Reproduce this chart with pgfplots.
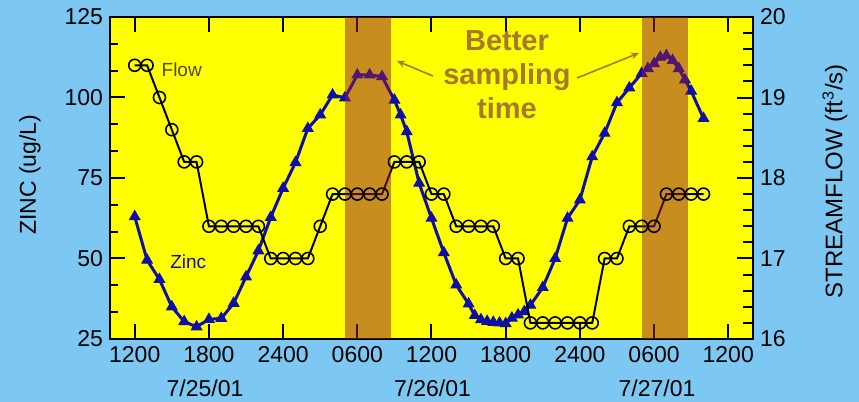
\documentclass[border=0pt]{standalone}
\usepackage{pgfplots}
\pgfplotsset{compat=1.18}
\usepackage{fontspec}
\setmainfont{Liberation Sans}
\usetikzlibrary{arrows.meta}
\definecolor{bgblue}{RGB}{125,200,242}
\definecolor{plotyellow}{RGB}{255,255,0}
\definecolor{bandc}{RGB}{145,29,60}
\definecolor{zincblue}{RGB}{15,15,165}
\definecolor{anncol}{RGB}{165,120,45}
\definecolor{flowlbl}{RGB}{80,72,30}

\pgfplotstableread{
h v
12 63
13 49.5
14 43.5
15 35
16 30.4
17 28.8
18 31.1
19 31.4
20 36.1
21 44.3
22 52.4
23 62.8
24 71.8
25 79.8
26 90.4
27 94.6
28 100.8
29 99.9
30 107
31 107
32 106.5
33 99.2
33.5 94.6
34 89.4
35 73.4
36 62.5
37 51.8
38 41.8
39 35.9
39.5 32.3
40 31
40.5 30.5
41 30.2
41.5 30
42 29.8
42.5 31.5
43 32.5
43.5 33.5
44 35.5
45 41
46 50
47 62.5
48 68.2
49 81.6
50 88.9
51 98.4
52 103
53 107.5
53.5 109
54 110.5
54.5 112.5
55 113
55.5 111.5
56 109
56.5 105.5
57 102
58 93.5
}\zinc

\pgfplotstableread{
h v
12 19.4
13 19.4
14 19.0
15 18.6
16 18.2
17 18.2
18 17.4
19 17.4
20 17.4
21 17.4
22 17.4
23 17.0
24 17.0
25 17.0
26 17.0
27 17.4
28 17.8
29 17.8
30 17.8
31 17.8
32 17.8
33 18.2
34 18.2
35 18.2
36 17.8
37 17.8
38 17.4
39 17.4
40 17.4
41 17.4
42 17.0
43 17.0
44 16.2
45 16.2
46 16.2
47 16.2
48 16.2
49 16.2
50 17.0
51 17.0
52 17.4
53 17.4
54 17.4
55 17.8
56 17.8
57 17.8
58 17.8
}\flow

\begin{document}
\begin{tikzpicture}[x=1pt,y=1pt]
\fill[bgblue] (0,0) rectangle (429.5,201);
\useasboundingbox (0,0) rectangle (429.5,201);
\begin{axis}[
  at={(55pt,31.5pt)}, anchor=south west, scale only axis,
  width=321.5pt, height=161pt,
  xmin=10, xmax=62, ymin=25, ymax=125,
  axis background/.style={fill=plotyellow},
  axis line style={line width=1pt},
  every tick/.style={black, line width=1pt},
  xtick={12,18,24,30,36,42,48,54,60},
  xticklabels={1200,1800,2400,0600,1200,1800,2400,0600,1200},
  ytick={25,50,75,100,125},
  minor y tick num=2,
  tick align=inside,
  xtick pos=both, ytick pos=left,
  xticklabel pos=lower, yticklabel pos=left,
  major tick length=7.5pt, minor tick length=4pt,
  ticklabel style={font=\fontsize{11.5}{13}\selectfont},
  /pgf/number format/assume math mode=true,
  ylabel={ZINC (ug/L)},
  every axis y label/.style={at={(rel axis cs:-0.1244,0.51)}, rotate=90, anchor=center, font=\fontsize{11.5}{13}\selectfont},
]
\addplot[color=zincblue, line width=1.5pt, mark=triangle*, mark size=3pt, mark options={solid, fill=zincblue, line width=0.5pt}] table[x=h,y=v] {\zinc};
\end{axis}
\begin{axis}[
  at={(55pt,31.5pt)}, anchor=south west, scale only axis,
  width=321.5pt, height=161pt,
  xmin=10, xmax=62, ymin=16, ymax=20,
  axis x line=none, axis y line*=right,
  axis line style={line width=1pt, -},
  every tick/.style={black, line width=1pt},
  ytick={16,17,18,19,20},
  minor y tick num=4,
  tick align=inside,
  major tick length=8pt, minor tick length=5pt,
  ticklabel style={font=\fontsize{11.5}{13}\selectfont},
  /pgf/number format/assume math mode=true,
  ylabel={STREAMFLOW (ft\textsuperscript{3}/s)},
  every axis y label/.style={at={(rel axis cs:1.1275,0.49)}, rotate=90, anchor=center, font=\fontsize{12}{14}\selectfont},
]
\addplot[color=black, line width=1pt, mark=o, mark size=3pt, mark options={solid, line width=0.8pt}] table[x=h,y=v] {\flow};
\addplot[draw=none, fill=bandc, fill opacity=0.5] coordinates {(29,16) (32.75,16) (32.75,20) (29,20)} -- cycle;
\addplot[draw=none, fill=bandc, fill opacity=0.5] coordinates {(53,16) (56.75,16) (56.75,20) (53,20)} -- cycle;
\end{axis}
\node[align=center, text=anncol, font=\bfseries\fontsize{14.5}{17}\selectfont] at (253.5,163.5) {Better\\sampling\\time};
\draw[anncol, line width=0.8pt, -{Stealth[length=4pt,width=3.5pt]}] (216.5,163) -- (198.5,170.5);
\draw[anncol, line width=0.8pt, -{Stealth[length=4pt,width=3.5pt]}] (288.5,162) -- (319.5,174.5);
\node[text=flowlbl, font=\fontsize{9.5}{11}\selectfont] at (90.85,166) {Flow};
\node[text=zincblue, font=\fontsize{9.5}{11}\selectfont] at (94.15,70.15) {Zinc};
\node[font=\fontsize{11.5}{13}\selectfont] at (102.5,7) {7/25/01};
\node[font=\fontsize{11.5}{13}\selectfont] at (216.25,7) {7/26/01};
\node[font=\fontsize{11.5}{13}\selectfont] at (328.5,7) {7/27/01};
\end{tikzpicture}
\end{document}
